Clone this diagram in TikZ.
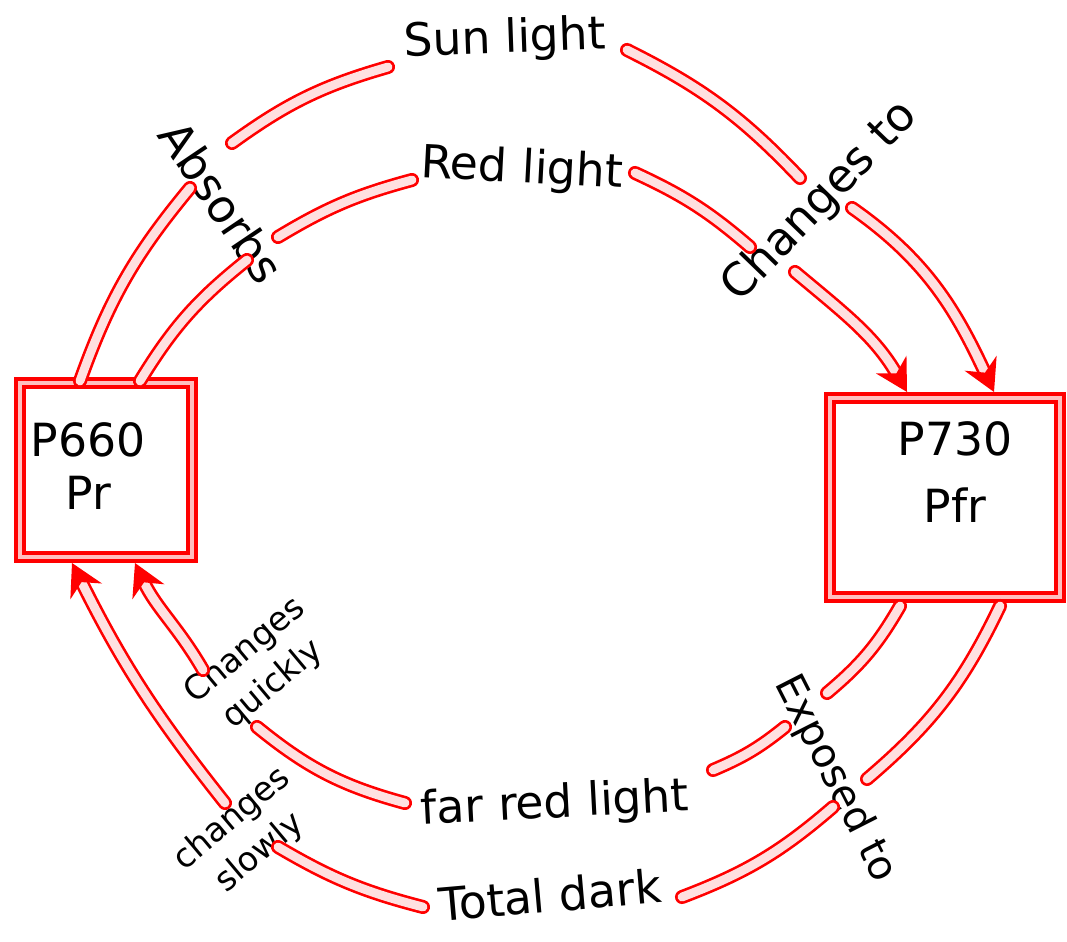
\documentclass[tikz,border=0pt]{standalone}
\usepackage{fontspec}
\newfontfamily\handfont{DejaVu Sans}
\usetikzlibrary{
  positioning,
  arrows.meta}

\tikzset{
  tube/.style={
    draw=red,
    line width=1.5pt,
    double=red!12,
    double distance=5pt,
    line cap=round
  },
  tubetip/.style={
    tube,
    -{Stealth[length=18pt,width=20pt]}
  },
  pbox/.style={
    rectangle,
    draw=red,
    line width=2.4pt,
    double=red!25,
    double distance=2.2pt
  },
  hand/.style={
    text=black,
    inner sep=1pt,
    font=\handfont\fontsize{26}{30}\selectfont
  },
  handsmall/.style={
    hand,
    align=center,
    font=\handfont\fontsize{19}{25}\selectfont
  }
}

\begin{document}
\begin{tikzpicture}
  \useasboundingbox (0,0) rectangle (21.34,18.82);

  % Boxes
  \node[
    pbox,
    minimum width=3.44cm,
    minimum height=3.48cm
  ] (pr) at (2.12,9.42) {};

  \node[
    pbox,
    minimum width=4.6cm,
    minimum height=3.98cm
  ] (pfr) at (18.9,8.87) {};

  \node[hand, align=center] (prtxt) at (1.76,9.5) {P660\\Pr};
  \node[hand, align=center] (pfrtxt) at (19.1,9.38) {P730\\[8pt]Pfr};

  % Labels on the ring
  \node[hand, rotate=2] (sun) at (10.1,18.02) {Sun light};
  \node[hand, rotate=-3] (redl) at (10.44,15.42) {Red light};
  \node[hand, rotate=-56] (absorbs) at (4.44,14.78) {Absorbs};
  \node[hand, rotate=46] (chto) at (16.4,14.78) {Changes to};
  \node[
    hand,
    rotate=-63,
    font=\handfont\fontsize{23}{26}\selectfont
  ] (expo) at (16.7,3.24) {Exposed to};
  \node[hand, rotate=3] (farred) at (11.1,2.72) {far red light};
  \node[hand, rotate=5] (dark) at (11.0,0.92) {Total dark};
  \node[handsmall, rotate=40] (quick) at (5.18,5.46) {Changes\\quickly};
  \node[handsmall, rotate=40] (slow) at (4.92,2.1) {changes\\slowly};

  % Ends of the pieces
  \coordinate (o1s) at (1.6,11.2);
  \coordinate (o1e) at (3.8,15.06);
  \coordinate (o2s) at (4.64,15.96);
  \coordinate (o2e) at (7.76,17.48);
  \coordinate (o3s) at (12.54,17.82);
  \coordinate (o3e) at (16.0,15.26);
  \coordinate (o4s) at (17.04,14.66);
  \coordinate (o4t) at (19.88,10.98);

  \coordinate (i1s) at (2.8,11.2);
  \coordinate (i1e) at (4.94,13.62);
  \coordinate (i2s) at (5.56,14.08);
  \coordinate (i2e) at (8.24,15.22);
  \coordinate (i3s) at (12.7,15.36);
  \coordinate (i3e) at (15.0,13.88);
  \coordinate (i4s) at (15.9,13.38);
  \coordinate (i4t) at (18.14,10.98);

  \coordinate (j1s) at (18.0,6.7);
  \coordinate (j1e) at (16.54,4.96);
  \coordinate (j2s) at (15.7,4.28);
  \coordinate (j2e) at (14.26,3.42);
  \coordinate (j3s) at (8.1,2.76);
  \coordinate (j3e) at (5.14,4.28);
  \coordinate (j4s) at (4.06,5.42);
  \coordinate (j4t) at (2.7,7.56);

  \coordinate (k1s) at (20.0,6.7);
  \coordinate (k1e) at (17.34,3.24);
  \coordinate (k2s) at (16.66,2.68);
  \coordinate (k2e) at (13.64,0.88);
  \coordinate (k3s) at (8.46,0.68);
  \coordinate (k3e) at (5.56,1.88);
  \coordinate (k4s) at (4.5,2.76);
  \coordinate (k4t) at (1.44,7.56);

  % Outer top: sun light
  \draw[tube] (o1s) to[bend left=10] (o1e);
  \draw[tube] (o2s) to[bend left=10] (o2e);
  \draw[tube] (o3s) to[bend left=10] (o3e);
  \draw[tubetip] (o4s) to[out=-35,in=115] (o4t);

  % Inner top: red light
  \draw[tube] (i1s) to[bend left=10] (i1e);
  \draw[tube] (i2s) to[bend left=8] (i2e);
  \draw[tube] (i3s) to[bend left=8] (i3e);
  \draw[tubetip] (i4s) to[out=-40,in=120] (i4t);

  % Inner bottom: far red light
  \draw[tube] (j1s) to[bend left=10] (j1e);
  \draw[tube] (j2s) to[bend left=8] (j2e);
  \draw[tube] (j3s) to[bend left=12] (j3e);
  \draw[tubetip] (j4s) to[out=120,in=-65] (j4t);

  % Outer bottom: total dark
  \draw[tube] (k1s) to[bend left=12] (k1e);
  \draw[tube] (k2s) to[bend left=10] (k2e);
  \draw[tube] (k3s) to[bend left=8] (k3e);
  \draw[tubetip] (k4s) to[bend left=6] (k4t);

\end{tikzpicture}
\end{document}
